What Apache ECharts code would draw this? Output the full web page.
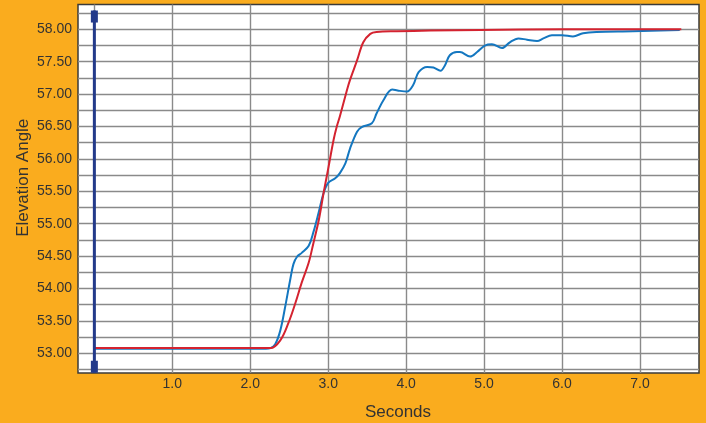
<!DOCTYPE html>
<html>
<head>
<meta charset="utf-8">
<script src="https://cdn.jsdelivr.net/npm/echarts@6/dist/echarts.min.js"></script>
<style>
html,body{margin:0;padding:0;background:#FAAC1E;}
#chart{width:706px;height:423px;}
</style>
</head>
<body>
<div id="chart"></div>
<script>
// Commanded elevation (red)
const redTime  = [0, 2.2, 2.26, 2.385, 2.49, 2.58, 2.66, 2.75, 2.81, 2.88, 2.94, 3.00, 3.07, 3.11, 3.15, 3.24, 3.28, 3.37, 3.45, 3.54, 3.62, 3.88, 4.31, 4.95, 6.0, 7.53];
const redValue = [53.08, 53.08, 53.08, 53.2, 53.47, 53.78, 54.09, 54.40, 54.70, 55.06, 55.47, 55.85, 56.30, 56.50, 56.66, 57.06, 57.22, 57.52, 57.80, 57.93, 57.96, 57.97, 57.98, 57.99, 58.0, 58.0];
// Measured elevation (blue)
const blueTime  = [0, 2.2, 2.26, 2.32, 2.385, 2.45, 2.51, 2.555, 2.60, 2.66, 2.75, 2.81, 2.875, 2.94, 3.00, 3.09, 3.15, 3.22, 3.28, 3.37, 3.43, 3.56, 3.62, 3.71, 3.82, 3.92, 4.01, 4.09, 4.16, 4.27, 4.35, 4.44, 4.50, 4.56, 4.65, 4.69, 4.82, 4.91, 5.01, 5.10, 5.23, 5.33, 5.44, 5.55, 5.68, 5.76, 5.87, 6.00, 6.14, 6.27, 6.44, 6.91, 7.51];
const blueValue = [53.07, 53.07, 53.08, 53.14, 53.35, 53.73, 54.12, 54.38, 54.49, 54.55, 54.66, 54.87, 55.16, 55.47, 55.63, 55.70, 55.78, 55.93, 56.16, 56.42, 56.49, 56.55, 56.70, 56.91, 57.07, 57.05, 57.04, 57.14, 57.34, 57.42, 57.41, 57.36, 57.45, 57.60, 57.65, 57.65, 57.58, 57.65, 57.75, 57.77, 57.71, 57.80, 57.86, 57.84, 57.82, 57.86, 57.91, 57.91, 57.89, 57.94, 57.96, 57.97, 57.99];
// Cursor (navy)
const cursorTime  = [0, 0];
const cursorValue = [58.29, 52.70];

const xMin = -0.21, xMax = 7.757;
const yMin = 52.696, yMax = 58.383;

const zip = (a, b) => a.map((t, i) => [t, b[i]]);

const chart = echarts.init(document.getElementById('chart'));
const font = 'Liberation Sans, Arial, sans-serif';
chart.setOption({
  backgroundColor: '#FAAC1E',
  animation: false,
  grid: {
    left: 78, right: 7, top: 4.5, bottom: 50,
    outerBoundsMode: 'none', containLabel: false,
    show: true, backgroundColor: '#ffffff',
    borderColor: '#3a3a3a', borderWidth: 1.5
  },
  xAxis: {
    type: 'value', min: xMin, max: xMax,
    minInterval: 1, maxInterval: 1,
    axisLine: { show: false }, axisTick: { show: false },
    axisLabel: {
      color: '#333', fontSize: 14, fontFamily: font, margin: 4,
      showMinLabel: false, showMaxLabel: false,
      formatter: v => (Math.abs(v - Math.round(v)) < 1e-6 && Math.round(v) > 0) ? v.toFixed(1) : ''
    },
    splitLine: { show: true, showMinLine: false, showMaxLine: false, lineStyle: { color: '#8a8a8a', width: 1.4 } },
    name: 'Seconds', nameLocation: 'middle', nameGap: 31, nameMoveOverlap: false,
    nameTextStyle: { color: '#333', fontSize: 17, fontFamily: font, padding: [0, 0, 0, 19] }
  },
  yAxis: {
    type: 'value', min: yMin, max: yMax,
    minInterval: 0.25, maxInterval: 0.25,
    axisLine: { show: false }, axisTick: { show: false },
    axisLabel: {
      color: '#333', fontSize: 14, fontFamily: font, margin: 6,
      showMinLabel: false, showMaxLabel: false,
      formatter: v => (Math.abs(v * 2 - Math.round(v * 2)) < 1e-6) ? v.toFixed(2) : ''
    },
    splitLine: { show: true, showMinLine: false, showMaxLine: false, lineStyle: { color: '#8a8a8a', width: 1.4 } },
    name: 'Elevation Angle', nameLocation: 'middle', nameGap: 46, nameMoveOverlap: false,
    nameTextStyle: { color: '#333', fontSize: 17, fontFamily: font, padding: [0, 0, 0, 22] }
  },
  series: [
    {
      type: 'line', data: zip(blueTime, blueValue), showSymbol: false, symbol: 'none',
      smooth: 0.35, lineStyle: { color: '#1477C0', width: 2 }, z: 3
    },
    {
      type: 'line', data: zip(redTime, redValue), showSymbol: false, symbol: 'none',
      smooth: 0.35, lineStyle: { color: '#D42330', width: 2 }, z: 4
    },
    {
      type: 'line',
      data: [
        { value: [cursorTime[0], cursorValue[0]], symbolOffset: [0, 6] },
        { value: [cursorTime[1], cursorValue[1]], symbolOffset: [0, -6] }
      ],
      symbol: 'rect', symbolSize: [7, 12], showSymbol: true,
      itemStyle: { color: '#233A8A' },
      lineStyle: { color: '#233A8A', width: 3 }, z: 5
    }
  ]
});
</script>
</body>
</html>
